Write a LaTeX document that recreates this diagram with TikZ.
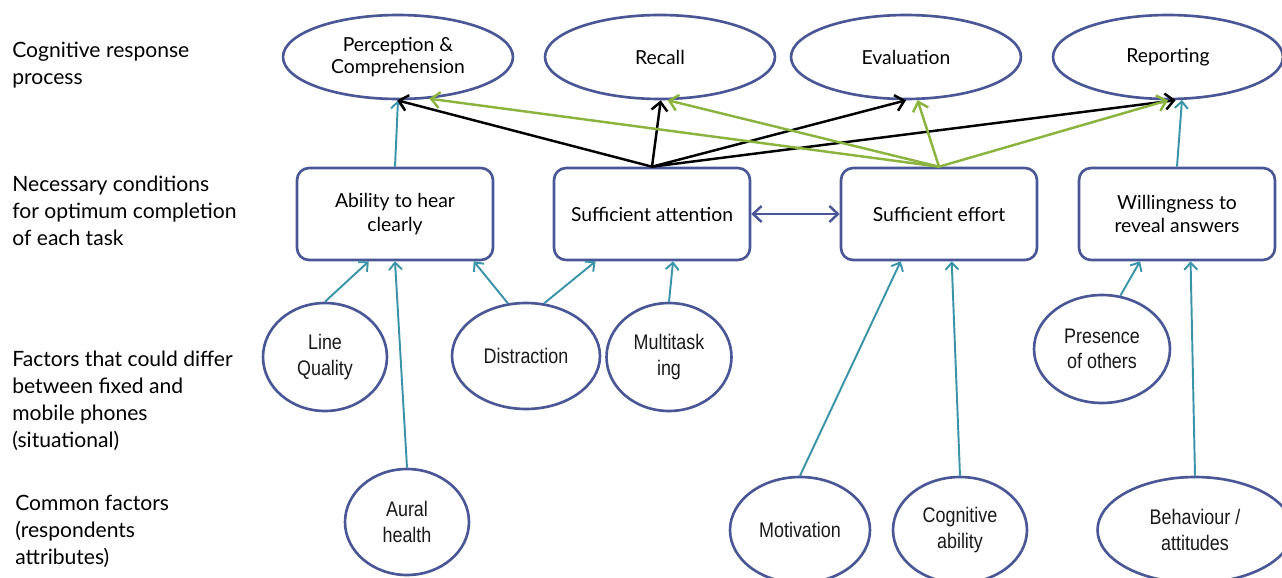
\documentclass[tikz,border=0pt]{standalone}
\usepackage{fontspec}
\setmainfont{Lato}
\newfontfamily\narrowfont[FakeStretch=0.85]{Liberation Sans}
\usetikzlibrary{arrows.meta, shapes.geometric, calc}
\definecolor{CSlate}{HTML}{4A5796}
\definecolor{CTeal}{HTML}{3A93A8}
\definecolor{CGreen}{HTML}{8AB43E}
\definecolor{CInk}{HTML}{1A1A1A}
\tikzset{
    taskell/.style={
        ellipse,
        draw=CSlate,
        fill=white,
        minimum width=4.6cm,
        minimum height=1.68cm,
        inner sep=0pt,
        align=center,
        font=\fontsize{11}{13}\selectfont,
        line width=1.5pt
    },
    condblock/.style={
        rectangle,
        rounded corners=0.24cm,
        draw=CSlate,
        fill=white,
        minimum width=3.92cm,
        minimum height=1.84cm,
        inner sep=0pt,
        align=center,
        font=\fontsize{11}{13.5}\selectfont,
        line width=1.5pt
    },
    factorell/.style={
        ellipse,
        draw=CSlate,
        fill=white,
        inner sep=0pt,
        align=center,
        text=CInk,
        font={\narrowfont\fontsize{12}{14.5}\selectfont},
        line width=1.5pt
    },
    linkarrow/.style={
        -{Straight Barb[length=1.4mm, width=2.6mm]},
        draw=CTeal,
        line width=1.1pt
    },
    attnarrow/.style={
        -{Straight Barb[length=1.7mm, width=3.2mm]},
        draw=black,
        line width=1.4pt
    },
    effortarrow/.style={
        -{Straight Barb[length=1.7mm, width=3.2mm]},
        draw=CGreen,
        line width=1.4pt
    },
    rowlabel/.style={
        anchor=west,
        align=left,
        inner sep=0pt,
        font=\fontsize{12}{15.3}\selectfont
    }
}

\begin{document}
\begin{tikzpicture}[x=0.02cm, y=-0.02cm]
    \useasboundingbox (0,0) rectangle (1282,578);
    \clip (0,0) rectangle (1282,578);

    % Row labels
    \node[rowlabel] (lbltask) at (12,65) {Cognitive response\\process};
    \node[rowlabel] (lblcond) at (12,211) {Necessary conditions\\for optimum completion\\of each task};
    \node[rowlabel] (lblsit) at (12,401) {Factors that could differ\\between fixed and\\mobile phones\\(situational)};
    \node[rowlabel] (lblcommon) at (15,531) {Common factors\\(respondents\\attributes)};

    % Cognitive response process
    \node[taskell] (perc) at (398,57) {Perception \&\\Comprehension};
    \node[taskell] (rec) at (660,57) {Recall};
    \node[taskell] (eval) at (906,57) {Evaluation};
    \node[taskell] (rep) at (1168,57) {Reporting};

    % Necessary conditions
    \node[condblock] (abil) at (395,214) {Ability to hear\\clearly};
    \node[condblock] (att) at (652,214) {Sufficient attention};
    \node[condblock] (eff) at (939,214) {Sufficient effort};
    \node[condblock] (will) at (1177,214) {Willingness to\\reveal answers};

    % Situational factors
    \node[factorell, minimum width=2.48cm, minimum height=2.16cm] (lq) at (325,357) {Line\\Quality};
    \node[factorell, minimum width=2.96cm, minimum height=2.12cm] (dist) at (526,356) {Distraction};
    \node[factorell, minimum width=2.5cm, minimum height=2.16cm] (mt) at (669,357) {Multitask\\ing};
    \node[factorell, minimum width=2.72cm, minimum height=2.16cm] (pres) at (1102,349) {Presence\\of others};

    % Common factors
    \node[factorell, minimum width=2.48cm, minimum height=2.12cm] (aur) at (407,522) {Aural\\health};
    \node[factorell, minimum width=2.8cm, minimum height=2.12cm] (mot) at (800,530) {Motivation};
    \node[factorell, minimum width=2.68cm, minimum height=2.12cm] (cog) at (960,530) {Cognitive\\ability};
    \node[factorell, minimum width=3.9cm, minimum height=2.12cm] (beh) at (1195,530) {Behaviour /\\attitudes};

    % Conditions to tasks
    \draw[linkarrow] (abil.north) -- (perc.south);
    \draw[linkarrow] (will.north) -- (rep.-72);
    \draw[attnarrow] (att.north) -- (perc.-91);
    \draw[attnarrow] (att.north) -- (rec.-89);
    \draw[attnarrow] (att.north) -- (eval.south);
    \draw[attnarrow] (att.north) -- (rep.-80);
    \draw[effortarrow] (eff.north) -- (perc.-53);
    \draw[effortarrow] (eff.north) -- (rec.-80);
    \draw[effortarrow] (eff.north) -- (eval.-75);
    \draw[effortarrow] (eff.north) -- (rep.south);
    \draw[{Straight Barb[length=1.7mm, width=3.2mm]}-{Straight Barb[length=1.7mm, width=3.2mm]}, CSlate, line width=1.4pt] (att.east) -- (eff.west);

    % Factors to conditions
    \draw[linkarrow] (lq.north) -- (abil.-119);
    \draw[linkarrow] (aur.north) -- (abil.south);
    \draw[linkarrow] (dist.109) -- (abil.-31);
    \draw[linkarrow] (dist.71) -- (att.-140);
    \draw[linkarrow] (mt.north) -- (att.-66);
    \draw[linkarrow] (mot.north) -- (eff.-129);
    \draw[linkarrow] (cog.north) -- (eff.-75);
    \draw[linkarrow] (pres.71) -- (will.-128);
    \draw[linkarrow] (beh.north) -- (will.-74);
\end{tikzpicture}
\end{document}
